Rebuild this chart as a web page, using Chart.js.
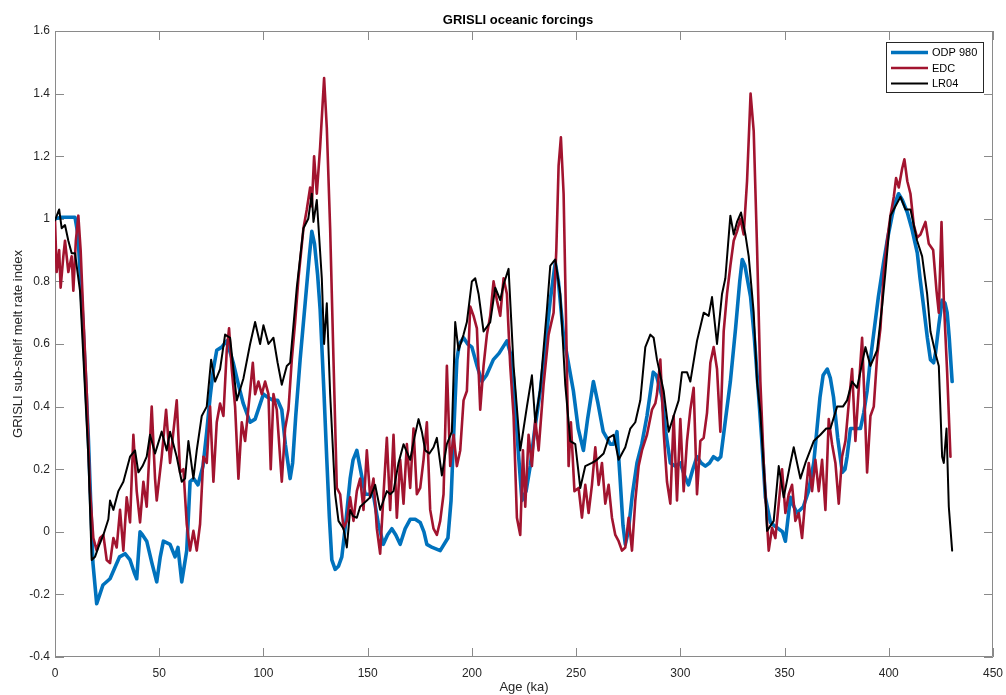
<!DOCTYPE html>
<html>
<head>
<meta charset="utf-8">
<script src="https://cdn.jsdelivr.net/npm/chart.js@4.4.1/dist/chart.umd.min.js"></script>
<style>
  html, body { margin: 0; padding: 0; background: #ffffff; }
  #wrap { width: 1006px; height: 695px; position: relative; }
</style>
</head>
<body>
<div id="wrap"><canvas id="c" width="1006" height="695"></canvas></div>
<script>
// ---- Data ----
const chartTitle = "GRISLI oceanic forcings";
const xAxisTitle = "Age (ka)";
const yAxisTitle = "GRISLI sub-shelf melt rate index";
const seriesNames = ["ODP 980", "EDC", "LR04"];

const xTicks = [0, 50, 100, 150, 200, 250, 300, 350, 400, 450];
const yTicks = [-0.4, -0.2, 0, 0.2, 0.4, 0.6, 0.8, 1, 1.2, 1.4, 1.6];

const odpAge = [0,3,6,9.6,11,13.4,16,18.2,20,21.5,23,26.4,29,31,33.6,36,38,39.2,40.8,42,44,46.5,48.8,50.5,52,55.2,57.6,59,60.8,63.2,64.8,66.5,68.6,71,72.8,74.4,76,77.6,80,82.4,85.5,88,90.3,93.6,96,98,100,102,104.7,106.8,108.8,110.5,112.8,114,115.5,117.6,120,122,123.2,124.5,126,127.2,129,130.4,131.6,132.8,134.4,136,137.6,139.5,141.6,143,144.8,146.5,148.8,152.7,155,157.5,159.5,161.6,163.5,165.6,168,170.4,172.8,175.2,177,178.4,181,184.8,188.5,190,191.5,192.8,194,196,198,200,202.5,204.8,207,210.3,213,216.8,218.5,220,222,224,226,228,230,232.8,235,237.6,240,241.5,243.9,246,248.7,251,253.5,255.5,258.3,260.5,263,266.4,268,269.6,271,272.5,273.6,275,277,279.2,281.5,284,287,288.5,291.3,293,295.2,297.5,300,302,303.9,306,308,310,312,314,315.9,318,319.4,321.5,324,326.5,328.5,329.7,331,333.7,335.5,337.5,339,340.8,343.2,345,347,349,350.4,352.8,354.5,356,359,361.5,364,367,368.5,370.5,372,373.5,375.5,377.7,379,380,381.6,384,386.4,388,389.6,391,392.7,395,397.5,399.5,401.6,403,404.7,406.5,408.9,411,413.7,415,416.7,418.5,420,421.5,422.4,424,425.6,427,428,429,430.4];
const odpVal = [1.0,1.005,1.005,1.005,0.95,0.67,0.30,-0.10,-0.23,-0.20,-0.17,-0.15,-0.11,-0.08,-0.07,-0.09,-0.13,-0.15,0.0,-0.01,-0.03,-0.10,-0.16,-0.08,-0.03,-0.04,-0.08,-0.05,-0.16,-0.06,0.16,0.17,0.15,0.21,0.32,0.43,0.52,0.58,0.59,0.61,0.54,0.47,0.41,0.35,0.36,0.40,0.44,0.43,0.42,0.42,0.39,0.28,0.17,0.22,0.37,0.55,0.73,0.88,0.96,0.92,0.82,0.71,0.45,0.23,0.05,-0.09,-0.12,-0.11,-0.08,0.03,0.17,0.23,0.26,0.20,0.12,0.12,0.03,-0.04,-0.01,0.01,-0.01,-0.04,0.01,0.04,0.04,0.03,0.0,-0.04,-0.05,-0.06,-0.02,0.10,0.35,0.55,0.60,0.62,0.60,0.59,0.53,0.48,0.50,0.55,0.57,0.61,0.57,0.49,0.28,0.10,0.13,0.21,0.32,0.45,0.58,0.74,0.86,0.80,0.63,0.55,0.45,0.33,0.26,0.36,0.48,0.41,0.32,0.28,0.28,0.32,0.18,0.02,-0.04,0.0,0.12,0.22,0.28,0.37,0.51,0.50,0.43,0.32,0.22,0.21,0.22,0.18,0.15,0.20,0.24,0.22,0.21,0.22,0.24,0.23,0.24,0.35,0.48,0.65,0.80,0.87,0.85,0.75,0.62,0.44,0.30,0.11,0.03,0.02,0.01,0.0,-0.03,0.11,0.08,0.06,0.08,0.13,0.22,0.43,0.50,0.52,0.49,0.43,0.30,0.19,0.20,0.24,0.33,0.33,0.33,0.38,0.45,0.54,0.63,0.75,0.86,0.94,1.01,1.05,1.08,1.06,1.02,0.97,0.89,0.81,0.72,0.62,0.55,0.54,0.57,0.66,0.74,0.73,0.70,0.62,0.48];

const edcAge = [0,0.8,2,2.7,4,4.8,6.4,8,8.8,10,11.2,12.3,13.6,15.2,16.8,18.4,20,21.6,23.2,24.8,26.4,28,29.6,31.2,32.8,34.4,36,37.6,39.2,40.8,42.4,44,46.4,48,48.8,51.2,53.3,55.2,56.8,58.4,60,61.6,63.2,64.8,66.4,68,69.6,71.2,72.8,74.4,76,77.6,79.2,80.8,82.4,83.5,84.8,86.4,88,89.6,91.2,93.6,94.9,96,97.6,99.2,100.8,102.4,103.5,104.8,106.4,108.8,110.4,112,113.6,115.2,116.8,119.2,120.8,122.4,123.2,124.3,125.6,127.2,129.1,130.4,132,133.6,135.2,136.8,138.4,140,141.6,143.2,144.8,146.4,148,149.6,151.2,152.8,154.4,156,157.6,159.2,160.8,162.4,164,165.6,167.2,168.8,170.4,172,173.6,175.2,176.8,178.4,180,181.6,183.2,184.8,186.4,188,189.6,191.2,192.8,194.4,196,197.6,199.2,200.8,202.4,204,205.6,207.2,208.8,210.4,212,213.6,215.2,216.8,218.4,220,221.6,223.2,224.5,225.6,227.2,228.8,230.4,232,234.4,236.8,239.2,240.5,241.6,242.7,244,245.3,246.4,247.5,249.2,251.2,252.8,254.4,256,257.6,259.2,260.8,262.4,264,265.6,267.2,268.8,270.4,272,273.6,275.2,276.8,278.4,280,281.6,284,286.4,288,288.8,290.4,292,293.6,295.2,296.8,298.4,300,301.6,303.2,304.8,306.4,308,309.6,311.2,312.8,314.4,316,317.6,319.2,320.8,322.4,324,325.6,327.2,328.8,330.4,332,333.7,335.2,336.8,338.4,340,341.3,342.4,344,345.6,347.2,348.8,350.4,352,353.6,355.2,356.8,358.4,360,361.6,363.2,364.8,366.4,368,369.6,371.2,372.8,374.4,376,377.6,379.2,380.8,382.4,384,385.6,387.2,388.3,389.6,391.2,392.8,394.4,396,397.6,399.2,400.8,402.4,403.5,404.8,406.4,407.5,408.9,410.4,412,413.6,415.2,417.6,419.2,421.3,422.9,424,425.3,426.4,428,429.6];
const edcVal = [0.995,0.83,0.90,0.78,0.88,0.93,0.83,0.88,0.77,0.93,1.01,0.90,0.69,0.45,0.13,-0.02,-0.06,-0.02,-0.01,-0.09,-0.10,-0.02,-0.05,0.07,-0.06,0.11,0.03,0.31,0.13,0.03,0.16,0.08,0.40,0.17,0.10,0.24,0.39,0.22,0.32,0.42,0.19,0.20,0.025,-0.06,0.003,-0.06,0.025,0.24,0.22,0.40,0.16,0.35,0.41,0.37,0.58,0.65,0.52,0.40,0.17,0.35,0.29,0.45,0.54,0.44,0.48,0.44,0.48,0.44,0.20,0.44,0.39,0.16,0.33,0.39,0.55,0.67,0.81,0.97,1.03,1.10,1.04,1.20,1.08,1.23,1.45,1.29,0.97,0.55,0.14,0.12,0.01,0.035,0.11,0.035,0.13,0.17,0.07,0.26,0.11,0.17,0.01,-0.07,0.12,0.30,0.07,0.31,0.045,0.23,0.09,0.28,0.14,0.33,0.12,0.14,0.23,0.35,0.07,0.01,-0.01,0.035,0.12,0.53,0.21,0.31,0.21,0.26,0.42,0.45,0.72,0.69,0.65,0.39,0.53,0.63,0.69,0.80,0.74,0.69,0.81,0.76,0.53,0.37,0.045,-0.01,0.26,0.08,0.31,0.21,0.36,0.26,0.47,0.63,0.70,0.90,1.17,1.26,1.08,0.63,0.21,0.35,0.13,0.14,0.045,0.15,0.06,0.15,0.27,0.15,0.22,0.09,0.15,0.045,-0.01,-0.03,-0.06,-0.05,0.045,-0.06,0.10,0.21,0.26,0.31,0.39,0.41,0.44,0.55,0.32,0.16,0.09,0.37,0.10,0.36,0.13,0.29,0.39,0.46,0.12,0.29,0.30,0.38,0.54,0.59,0.52,0.32,0.64,0.76,0.85,0.93,0.96,1.0,0.95,1.12,1.40,1.28,0.91,0.48,0.22,0.06,-0.06,0.013,-0.02,0.09,0.20,0.06,0.12,0.15,0.035,0.06,-0.02,0.11,0.22,0.13,0.23,0.13,0.23,0.07,0.36,0.28,0.22,0.09,0.24,0.29,0.41,0.52,0.29,0.46,0.62,0.43,0.19,0.37,0.40,0.56,0.65,0.83,0.93,1.01,1.07,1.13,1.10,1.16,1.19,1.12,1.08,0.98,0.94,0.95,0.99,0.92,0.90,0.77,0.70,0.99,0.74,0.51,0.24];

const lrAge = [0,2,3.2,4.8,6.4,8,9.6,12,13.6,16,17.6,19.2,20.8,23.2,25.6,26.4,28,30.4,32.8,36,38.4,40,42,44,45.6,48,51.2,53.6,55.2,58.4,60.8,62.4,64,66.4,68,70.4,72.8,74.9,76.8,79.2,81.6,84,85.6,87.2,90.4,93.6,96,98.4,100,102.4,104.8,106.8,108.8,111.2,112.8,116,119.2,121.5,123.2,124,125.6,128,129.1,130.4,132,134.4,136,138.4,140,141.6,143,144.8,146.4,148,149.6,151.2,153.6,156,157.6,159.2,160.8,162.4,164.8,167.2,170.4,172.4,174.4,176,177.6,179.6,181.6,183.2,185.6,188,190.4,192,193.6,196,197.6,200,201.6,203.2,205.6,208.8,211.2,213.6,215.2,217.6,220,223.2,226.4,228.8,230.4,232.8,236,237.6,240,242.4,244.8,247.2,249.6,252,254.4,257.6,260,263.2,265.6,268,270.4,273.6,276,278.4,280.8,283.2,285.6,287.2,288.8,292,294.4,296.8,299.2,300.8,303.2,304.8,308,311.2,313.6,315.2,317.6,320,321.6,324,325.6,327.2,329.1,331.2,332.8,335.2,336.8,338.4,340.8,341.6,344.8,347.2,349.6,352.8,354.4,357.6,360,364,367.2,370,372,375.2,378,380,382.4,384.8,388.8,391.2,394.4,396.8,398.4,400.8,403.2,405.6,408,410.4,413.6,416,418.4,420,422.4,424,425.6,426.4,427.7,428.8,430.4];
const lrVal = [0.995,1.03,0.97,0.98,0.93,0.89,0.89,0.77,0.56,0.24,-0.09,-0.08,-0.05,-0.01,0.04,0.10,0.07,0.13,0.16,0.24,0.26,0.19,0.21,0.24,0.31,0.25,0.32,0.26,0.32,0.24,0.16,0.17,0.29,0.17,0.26,0.37,0.40,0.55,0.48,0.52,0.63,0.62,0.52,0.42,0.49,0.60,0.67,0.60,0.66,0.60,0.62,0.54,0.47,0.53,0.54,0.78,0.97,1.0,1.08,0.99,1.06,0.81,0.60,0.73,0.44,0.12,0.035,0.01,-0.05,0.07,0.05,0.045,0.08,0.09,0.10,0.11,0.15,0.07,0.10,0.13,0.12,0.13,0.22,0.28,0.23,0.30,0.36,0.32,0.26,0.25,0.27,0.30,0.18,0.28,0.32,0.67,0.58,0.63,0.67,0.80,0.81,0.76,0.64,0.67,0.78,0.74,0.79,0.84,0.53,0.26,0.40,0.50,0.35,0.46,0.71,0.85,0.87,0.76,0.47,0.29,0.28,0.14,0.21,0.22,0.23,0.25,0.30,0.31,0.23,0.27,0.33,0.35,0.42,0.59,0.63,0.62,0.55,0.45,0.32,0.37,0.42,0.51,0.51,0.48,0.61,0.70,0.69,0.75,0.60,0.76,0.81,1.01,0.95,0.99,1.02,0.95,0.88,0.70,0.48,0.38,0.12,0.003,0.035,0.21,0.11,0.22,0.27,0.17,0.22,0.29,0.31,0.33,0.33,0.40,0.40,0.42,0.48,0.46,0.59,0.53,0.58,0.72,0.83,1.01,1.04,1.07,1.03,1.03,0.93,0.88,0.76,0.64,0.57,0.53,0.24,0.22,0.33,0.08,-0.06];

// ---- Styling ----
const colors = ["#0072BD", "#A2142F", "#000000"];
const widths = [3.6, 2.6, 2.0];
const FONT = "'Liberation Sans', Arial, Helvetica, sans-serif";
const TEXT = "#262626";
const AXIS = "#8a8a8a";

function toXY(xs, ys) { return xs.map((x, i) => ({ x: x, y: ys[i] })); }

const framePlugin = {
  id: 'frame',
  beforeDatasetsDraw(chart) {
    const { ctx, chartArea: a, scales } = chart;
    ctx.save();
    ctx.strokeStyle = AXIS;
    ctx.lineWidth = 1;
    ctx.beginPath();
    ctx.rect(a.left + 0.5, a.top + 0.5, a.right - a.left - 1, a.bottom - a.top - 1);
    ctx.stroke();
    const tl = 9;
    ctx.beginPath();
    xTicks.forEach(v => {
      const px = Math.round(scales.x.getPixelForValue(v)) + 0.5;
      ctx.moveTo(px, a.bottom); ctx.lineTo(px, a.bottom - tl);
      ctx.moveTo(px, a.top); ctx.lineTo(px, a.top + tl);
    });
    yTicks.forEach(v => {
      const py = Math.round(scales.y.getPixelForValue(v)) + 0.5;
      ctx.moveTo(a.left, py); ctx.lineTo(a.left + tl, py);
      ctx.moveTo(a.right, py); ctx.lineTo(a.right - tl, py);
    });
    ctx.stroke();
    ctx.restore();
  },
  afterDraw(chart) {
    const { ctx, chartArea: a } = chart;
    ctx.save();
    // title
    ctx.fillStyle = "#000";
    ctx.font = "bold 13px " + FONT;
    ctx.textAlign = "center";
    ctx.textBaseline = "middle";
    ctx.fillText(chartTitle, (a.left + a.right) / 2 - 6, 20);
    // legend
    const bx = 886.5, by = 42.5, bw = 97, bh = 50;
    ctx.fillStyle = "#fff";
    ctx.fillRect(bx, by, bw, bh);
    ctx.strokeStyle = TEXT;
    ctx.lineWidth = 1;
    ctx.strokeRect(bx, by, bw, bh);
    const rows = [52.5, 68, 83.5];
    ctx.font = "11px " + FONT;
    ctx.textAlign = "left";
    seriesNames.forEach((n, i) => {
      ctx.strokeStyle = colors[i];
      ctx.lineWidth = widths[i];
      ctx.beginPath();
      ctx.moveTo(891, rows[i]); ctx.lineTo(928, rows[i]);
      ctx.stroke();
      ctx.fillStyle = "#000";
      ctx.fillText(n, 932, rows[i] + 0.5);
    });
    ctx.restore();
  }
};

new Chart(document.getElementById('c'), {
  type: 'line',
  data: {
    datasets: [
      { label: seriesNames[0], data: toXY(odpAge, odpVal), borderColor: colors[0], borderWidth: widths[0], order: 3 },
      { label: seriesNames[1], data: toXY(edcAge, edcVal), borderColor: colors[1], borderWidth: widths[1], order: 2 },
      { label: seriesNames[2], data: toXY(lrAge, lrVal), borderColor: colors[2], borderWidth: widths[2], order: 1 }
    ]
  },
  plugins: [framePlugin],
  options: {
    responsive: false,
    animation: false,
    layout: { padding: { top: 31, right: 13, left: 0, bottom: 0 } },
    elements: {
      point: { radius: 0, hoverRadius: 0 },
      line: { tension: 0, fill: false, borderJoinStyle: 'round', borderCapStyle: 'round' }
    },
    plugins: { legend: { display: false }, title: { display: false }, tooltip: { enabled: false } },
    scales: {
      x: {
        type: 'linear', min: 0, max: 450,
        afterBuildTicks: s => { s.ticks = xTicks.map(v => ({ value: v })); },
        afterFit: s => { s.height = 38; s.paddingLeft = 0; s.paddingRight = 0; },
        grid: { display: false, drawTicks: false },
        border: { display: false },
        ticks: { padding: 9, color: TEXT, font: { family: FONT, size: 12 }, maxRotation: 0, callback: v => String(v) },
        title: { display: true, text: xAxisTitle, color: TEXT, font: { family: FONT, size: 13 }, padding: { top: 0, bottom: 0 } }
      },
      y: {
        type: 'linear', min: -0.4, max: 1.6,
        afterBuildTicks: s => { s.ticks = yTicks.map(v => ({ value: v })); },
        afterFit: s => { s.width = 55; s.paddingTop = 0; s.paddingBottom = 0; },
        grid: { display: false, drawTicks: false },
        border: { display: false },
        ticks: { padding: 5, color: TEXT, font: { family: FONT, size: 12 }, callback: v => String(Math.round(v * 10) / 10) },
        title: { display: true, text: yAxisTitle, color: TEXT, font: { family: FONT, size: 13 }, padding: { top: 11, bottom: 0 } }
      }
    }
  }
});
</script>
</body>
</html>
